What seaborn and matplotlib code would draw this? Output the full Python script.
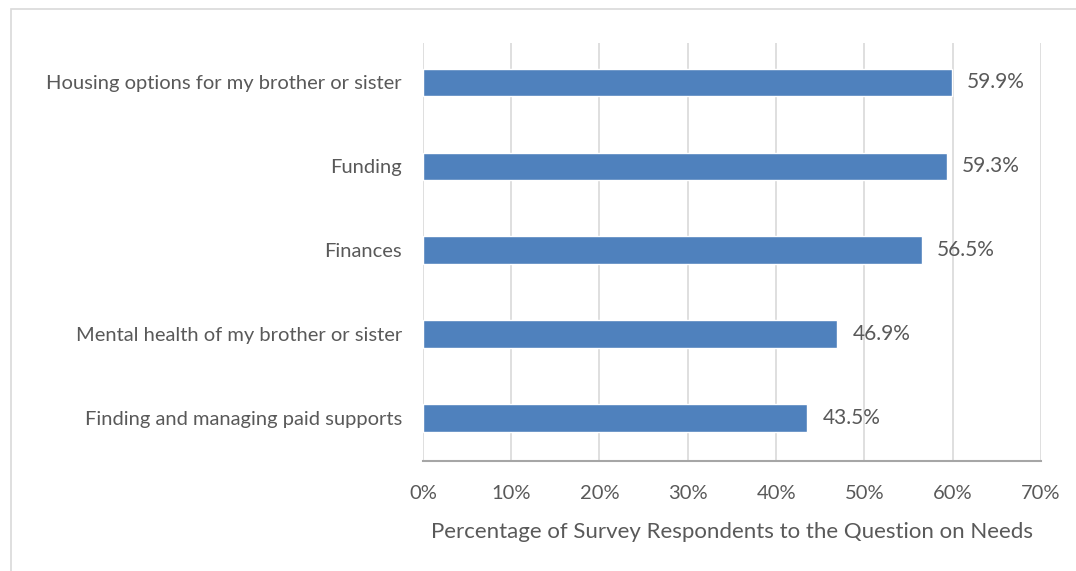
import numpy as np
import pandas as pd
import seaborn as sns
import matplotlib.pyplot as plt
from matplotlib.patches import Rectangle

# %% Data
lst_needs = ['Housing options for my brother or sister',
             'Funding',
             'Finances',
             'Mental health of my brother or sister',
             'Finding and managing paid supports']
lst_pct = [59.9, 59.3, 56.5, 46.9, 43.5]
lst_xticks = [0, 10, 20, 30, 40, 50, 60, 70]

str_txt = '#595959'
str_bar = '#4F81BD'

df = pd.DataFrame({'need': lst_needs, 'pct': lst_pct})

# %% Plot
sns.set_style('white')
plt.rcParams['font.family'] = ['Lato', 'DejaVu Sans']

fig = plt.figure(figsize=(10.76, 5.71), dpi=100)
ax = fig.add_axes([0.393, 0.1926, 0.5745, 0.7321])

sns.barplot(data=df, x='pct', y='need', color=str_bar, width=0.33,
            saturation=1, ax=ax)

ax.set_xlim(0, 70)
ax.set_ylim(4.51, -0.47)
ax.set_xticks(lst_xticks)
ax.set_xticklabels([f'{v}%' for v in lst_xticks])
ax.xaxis.grid(True, color='#D9D9D9', linewidth=1.2)
ax.set_axisbelow(True)
for s in ['top', 'right', 'left']:
    ax.spines[s].set_visible(False)
ax.spines['bottom'].set_color('#A6A6A6')
ax.spines['bottom'].set_linewidth(1.5)
ax.tick_params(axis='both', length=0, labelsize=14.5, colors=str_txt)
ax.tick_params(axis='x', pad=17)
ax.tick_params(axis='y', pad=15)
ax.set_ylabel('')
ax.set_xlabel('Percentage of Survey Respondents to the Question on Needs',
              fontsize=16, color=str_txt, labelpad=15)

# data labels
for ind, val in enumerate(lst_pct):
    ax.annotate(f'{val}%', xy=(val, ind), xytext=(11, 0),
                textcoords='offset points', va='center', ha='left',
                fontsize=15, color=str_txt)

# chart border
fig.patches.append(Rectangle((11 / 1076, -0.05), 1.1, 1 - 9 / 571 + 0.05,
                             transform=fig.transFigure, fill=False,
                             edgecolor='#D9D9D9', linewidth=1.2))

fig.savefig('out.png', dpi=100)
